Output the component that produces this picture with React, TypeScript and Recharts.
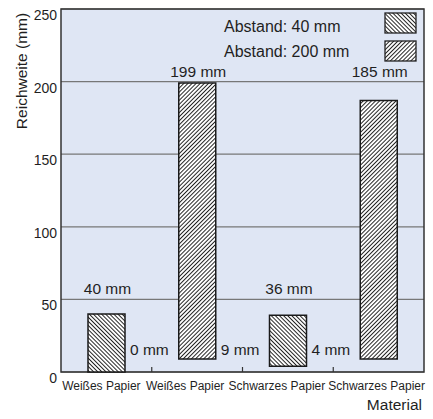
import React from 'react';
import {
  BarChart,
  Bar,
  XAxis,
  YAxis,
  CartesianGrid,
  ReferenceArea,
  Legend,
  LabelList,
  Cell,
} from 'recharts';

// Material per bar, Abstand per bar, and the range (min..max Reichweite)
const materials = ['Weißes Papier', 'Weißes Papier', 'Schwarzes Papier', 'Schwarzes Papier'];
const distances = ['40', '200', '40', '200'];
const rangeLow = [0, 9, 4, 9];
const rangeHigh = [40, 199, 39, 187];
const topLabels = [40, 199, 36, 185];
const bottomLabels: (number | null)[] = [0, 9, 4, null];
const yTicks = [0, 50, 100, 150, 200, 250];
const legendItems = ['Abstand: 40 mm', 'Abstand: 200 mm'];

const W = 433;
const H = 419;
const PLOT_TOP = 9;
const PLOT_H = 363;
const PLOT_W = 363;
const Y_MAX = 250;
const BAND = PLOT_W / materials.length;
const TEXT = '#1f1f1f';
const FONT = '"Liberation Sans", Arial, Helvetica, sans-serif';
const HATCH = 2.9;

const yPix = (v: number) => PLOT_TOP + PLOT_H * (1 - v / Y_MAX);

const data = materials.map((name, i) => ({
  name,
  abstand: distances[i],
  range: [rangeLow[i], rangeHigh[i]],
}));

const tickShift = [-5, -12, -11, -2];

function MaterialTick({ x, y, payload, index }: any) {
  return (
    <g>
      <text x={x + tickShift[index]} y={y + 18} textAnchor="middle" fontSize={12} fill={TEXT}>
        {payload.value}
      </text>
      {index < materials.length - 1 && (
        <line x1={x + BAND / 2} x2={x + BAND / 2} y1={y} y2={y - 5} stroke="#333" strokeWidth={1.2} />
      )}
    </g>
  );
}

function ValueTick({ x, y, payload }: any) {
  return (
    <text x={x} y={y + 11} textAnchor="end" fontSize={14} fill={TEXT}>
      {payload.value}
    </text>
  );
}

function TopLabel(props: any) {
  const { x, width, index } = props;
  const gridAbove = Math.ceil(rangeHigh[index] / 50) * 50;
  return (
    <text x={x + width / 2 + 1} y={yPix(gridAbove) - 5} textAnchor="middle" fontSize={15.5} fill={TEXT}>
      {`${topLabels[index]} mm`}
    </text>
  );
}

function BottomLabel(props: any) {
  const { x, width, index } = props;
  const v = bottomLabels[index];
  if (v === null || v === undefined) return null;
  return (
    <text x={x + width + 5} y={PLOT_TOP + PLOT_H - 17} textAnchor="start" fontSize={15.5} fill={TEXT}>
      {`${v} mm`}
    </text>
  );
}

function YTitle() {
  return (
    <text transform="translate(27,71) rotate(-90)" textAnchor="middle" fontSize={15.5} fill={TEXT}>
      Reichweite (mm)
    </text>
  );
}

function XTitle() {
  return (
    <text x={422} y={410} textAnchor="end" fontSize={15.5} fill={TEXT}>
      Material
    </text>
  );
}

function LegendBox() {
  return (
    <svg width={200} height={60} style={{ display: 'block' }}>
      {legendItems.map((t, i) => (
        <g key={t}>
          <text x={4} y={27 + i * 25} fontSize={16} fill={TEXT} fontFamily={FONT}>
            {t}
          </text>
          <rect
            x={165}
            y={8 + i * 28}
            width={31}
            height={20}
            fill={`url(#${i === 0 ? 'hatch40' : 'hatch200'})`}
            stroke="#222"
            strokeWidth={1.3}
          />
        </g>
      ))}
    </svg>
  );
}

export default function App() {
  return (
    <div style={{ position: 'absolute', left: 0, top: 0, width: W, height: H, fontFamily: FONT, background: '#fff' }}>
      <BarChart
        width={W}
        height={H}
        data={data}
        margin={{ top: PLOT_TOP, right: 9, left: 0, bottom: 0 }}
        style={{ fontFamily: FONT }}
      >
        <defs>
          <pattern id="hatch40" width={HATCH} height={HATCH} patternUnits="userSpaceOnUse" patternTransform="rotate(-45)">
            <rect width={HATCH} height={HATCH} fill="#fff" />
            <line x1={0.5} y1={0} x2={0.5} y2={HATCH} stroke="#1a1a1a" strokeWidth={0.95} />
          </pattern>
          <pattern id="hatch200" width={HATCH} height={HATCH} patternUnits="userSpaceOnUse" patternTransform="rotate(45)">
            <rect width={HATCH} height={HATCH} fill="#fff" />
            <line x1={0.5} y1={0} x2={0.5} y2={HATCH} stroke="#1a1a1a" strokeWidth={0.95} />
          </pattern>
        </defs>
        <CartesianGrid vertical={false} fill="#dfe6f4" stroke="#777" strokeWidth={1.2} />
        <XAxis
          dataKey="name"
          height={47}
          interval={0}
          axisLine={false}
          tickLine={false}
          tickSize={0}
          tickMargin={0}
          tick={<MaterialTick />}
          label={<XTitle />}
        />
        <YAxis
          width={61}
          domain={[0, Y_MAX]}
          ticks={yTicks}
          axisLine={false}
          tickLine={false}
          tickSize={0}
          tickMargin={4}
          tick={<ValueTick />}
          label={<YTitle />}
        />
        <ReferenceArea y1={0} y2={Y_MAX} fill="none" fillOpacity={0} stroke="#333" strokeWidth={1.5} />
        <Legend
          layout="horizontal"
          align="center"
          verticalAlign="middle"
          wrapperStyle={{ left: 220, top: 5, width: 200, height: 60 }}
          content={<LegendBox />}
        />
        <Bar dataKey="range" barSize={37} isAnimationActive={false} stroke="#1a1a1a" strokeWidth={1.5}>
          {data.map((d, i) => (
            <Cell key={i} fill={`url(#${d.abstand === '40' ? 'hatch40' : 'hatch200'})`} />
          ))}
          <LabelList dataKey="range" content={<TopLabel />} />
          <LabelList dataKey="range" content={<BottomLabel />} />
        </Bar>
      </BarChart>
    </div>
  );
}
